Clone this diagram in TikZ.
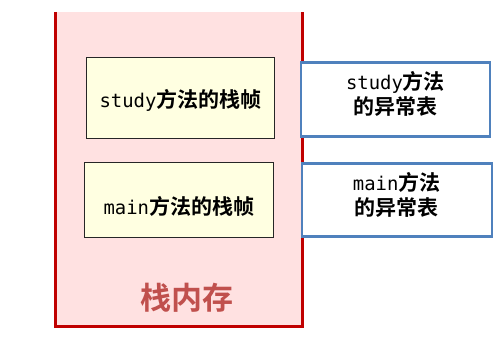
\documentclass[tikz,border=0pt]{standalone}
\usepackage{fontspec}
\newfontfamily\cjk{Noto Sans CJK SC}
\newfontfamily\cjkb{Noto Sans CJK SC Bold}
\newfontfamily\mono{DejaVu Sans Mono}[Scale=0.9]
\definecolor{stackfill}{HTML}{FFE1E1}
\definecolor{stackred}{HTML}{C00000}
\definecolor{labelred}{HTML}{C0504D}
\definecolor{frameyellow}{HTML}{FFFFE1}
\definecolor{tableblue}{HTML}{4F81BD}
\tikzset{
  framebox/.style={draw=black!85, line width=0.8pt, fill=frameyellow, inner sep=0pt},
  tablebox/.style={draw=tableblue, line width=2.2pt, fill=white, inner sep=0pt},
  boxtext/.style={inner sep=0pt, align=center, font=\fontsize{21}{25}\selectfont},
}
\begin{document}
\begin{tikzpicture}[x=1pt,y=-1pt]
\useasboundingbox (0,0) rectangle (499,340);
\node (stack) [fill=stackfill, minimum width=246pt, minimum height=314pt, inner sep=0pt] at (179,169) {};
\draw[stackred, line width=3pt, line join=miter] (stack.north west) -- (stack.south west) -- (stack.south east) -- (stack.north east);
\node (study) [framebox, minimum width=188pt, minimum height=81pt] at (180.5,97.7) {};
\node (main) [framebox, minimum width=189pt, minimum height=75pt] at (178.8,199.8) {};
\node (studyt) [tablebox, minimum width=189pt, minimum height=74pt] at (395.5,99.5) {};
\node (maint) [tablebox, minimum width=190pt, minimum height=73pt] at (396.7,200) {};
\node (studytxt) [boxtext] at ([yshift=-2.5pt]study.center) {{\mono study}{\cjkb 方法的栈帧}};
\node (maintxt) [boxtext] at ([yshift=-6.5pt]main.center) {{\mono main}{\cjkb 方法的栈帧}};
\node (studyttxt) [boxtext] at ([yshift=5.5pt]studyt.center) {{\mono study}{\cjkb 方法}\\{\cjkb 的异常表}};
\node (mainttxt) [boxtext] at ([yshift=5.5pt]maint.center) {{\mono main}{\cjkb 方法}\\{\cjkb 的异常表}};
\node (label) [text=labelred, font=\cjkb\fontsize{31}{36}\selectfont] at (187,298) {栈内存};
\end{tikzpicture}
\end{document}
